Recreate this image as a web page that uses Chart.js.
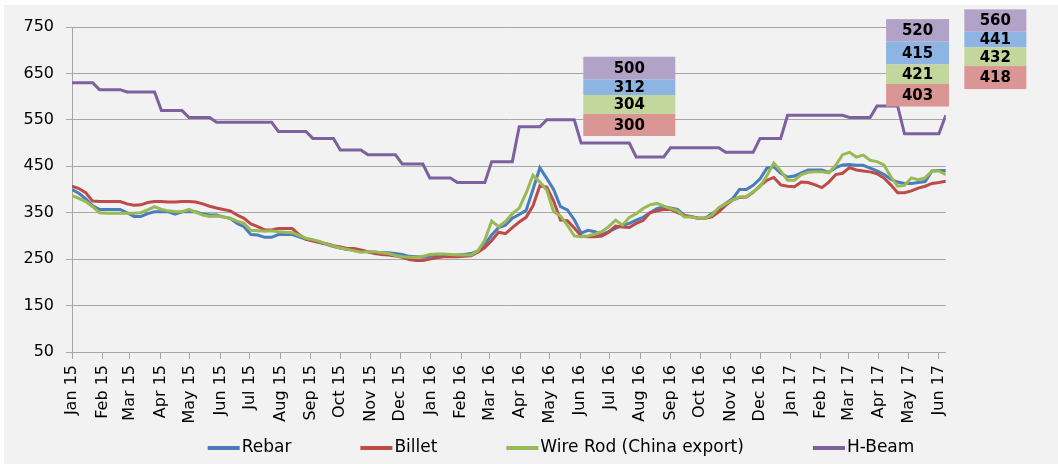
<!DOCTYPE html>
<html>
<head>
<meta charset="utf-8">
<script src="https://cdn.jsdelivr.net/npm/chart.js@4.4.1/dist/chart.umd.min.js"></script>
<style>
  html, body { margin: 0; padding: 0; background: #fff; }
  #priceChart { display: block; }
</style>
</head>
<body>
<canvas id="priceChart" width="1058" height="464"></canvas>
<script>
// Etiquetas del eje X (inicio de cada mes)
var monthLabels = ['Jan 15', 'Feb 15', 'Mar 15', 'Apr 15', 'May 15', 'Jun 15', 'Jul 15', 'Aug 15', 'Sep 15', 'Oct 15',
  'Nov 15', 'Dec 15', 'Jan 16', 'Feb 16', 'Mar 16', 'Apr 16', 'May 16', 'Jun 16', 'Jul 16', 'Aug 16',
  'Sep 16', 'Oct 16', 'Nov 16', 'Dec 16', 'Jan 17', 'Feb 17', 'Mar 17', 'Apr 17', 'May 17', 'Jun 17'];

// Precios semanales desde el 1 de enero de 2015
var rebar = [
  400, 392, 380, 365, 357, 357, 357, 357, 350, 342,
  342, 348, 352, 352, 352, 347, 352, 352, 352, 347,
  345, 345, 341, 338, 327, 320, 303, 302, 297, 297,
  303, 303, 303, 298, 293, 290, 286, 282, 277, 274,
  271, 270, 268, 266, 265, 264, 264, 262, 260, 256,
  255, 254, 256, 258, 259, 258, 259, 260, 262, 268,
  282, 302, 318, 323, 338, 346, 355, 400, 447, 424,
  400, 363, 356, 335, 306, 312, 309, 303, 309, 316,
  323, 327, 334, 340, 350, 359, 363, 360, 357, 344,
  341, 338, 338, 348, 358, 370, 380, 400, 400, 409,
  423, 446, 449, 435, 427, 429, 436, 442, 442, 442,
  437, 447, 453, 454, 452, 452, 446, 440, 433, 422,
  416, 413, 413, 415, 417, 440, 441, 441];

var billet = [
  407, 402, 393, 375, 374, 374, 374, 374, 369, 366,
  367, 372, 374, 374, 373, 373, 374, 374, 373, 369,
  364, 360, 357, 354, 345, 338, 326, 320, 313, 313,
  316, 316, 316, 303, 293, 289, 286, 283, 279, 276,
  273, 273, 270, 266, 262, 260, 259, 257, 254, 249,
  247, 247, 250, 253, 255, 255, 255, 256, 257, 265,
  275, 290, 308, 305, 318, 330, 340, 365, 408, 405,
  375, 334, 333, 317, 300, 298, 298, 300, 308, 321,
  319, 318, 327, 333, 350, 354, 357, 357, 350, 344,
  342, 338, 338, 341, 352, 366, 377, 383, 384, 394,
  408, 420, 426, 410, 407, 406, 416, 415, 410, 404,
  416, 432, 435, 447, 442, 440, 438, 434, 425, 410,
  393, 393, 397, 403, 407, 413, 415, 418];

var wireRod = [
  387, 381, 374, 363, 350, 349, 349, 349, 349, 349,
  350, 356, 363, 357, 354, 352, 352, 357, 351, 345,
  342, 343, 341, 338, 332, 327, 312, 311, 310, 311,
  309, 308, 307, 301, 295, 292, 288, 283, 278, 274,
  271, 268, 265, 266, 266, 264, 262, 258, 255, 254,
  254, 256, 260, 261, 261, 260, 259, 259, 259, 268,
  291, 332, 320, 331, 348, 360, 392, 431, 416, 399,
  352, 343, 323, 300, 298, 300, 304, 309, 320, 334,
  323, 340, 348, 359, 367, 370, 364, 359, 354, 341,
  341, 338, 338, 345, 361, 369, 377, 384, 385, 395,
  406, 430, 457, 440, 420, 420, 432, 437, 438, 438,
  436, 452, 475, 480, 470, 474, 463, 460, 453, 428,
  407, 409, 425, 421, 425, 440, 440, 432];

var hBeam = [
  630, 630, 630, 630, 615, 615, 615, 615, 610, 610,
  610, 610, 610, 570, 570, 570, 570, 555, 555, 555,
  555, 545, 545, 545, 545, 545, 545, 545, 545, 545,
  525, 525, 525, 525, 525, 510, 510, 510, 510, 485,
  485, 485, 485, 475, 475, 475, 475, 475, 455, 455,
  455, 455, 425, 425, 425, 425, 415, 415, 415, 415,
  415, 460, 460, 460, 460, 535, 535, 535, 535, 550,
  550, 550, 550, 550, 500, 500, 500, 500, 500, 500,
  500, 500, 470, 470, 470, 470, 470, 490, 490, 490,
  490, 490, 490, 490, 490, 480, 480, 480, 480, 480,
  510, 510, 510, 510, 560, 560, 560, 560, 560, 560,
  560, 560, 560, 555, 555, 555, 555, 580, 580, 580,
  580, 520, 520, 520, 520, 520, 520, 560];

// Valores de las etiquetas: H-Beam, Rebar, Wire Rod, Billet
var calloutValues = [
  [500, 312, 304, 300],
  [520, 415, 421, 403],
  [560, 441, 432, 418]];

// Posicion de cada inicio de mes, en semanas desde el 1 de enero de 2015
var monthTicks = monthLabels.map(function (label, k) {
  return (Date.UTC(2015, k, 1) - Date.UTC(2015, 0, 1)) / (7 * 864e5);
});

function toPoints(values) {
  return values.map(function (v, i) { return { x: i, y: v }; });
}

Chart.defaults.font.family = '"DejaVu Sans", Verdana, sans-serif';
Chart.defaults.color = '#000';

// Fondo gris con el borde blanco de arriba y de la izquierda
var backgroundPlugin = {
  id: 'background',
  beforeDraw: function (chart) {
    var ctx = chart.ctx;
    ctx.save();
    ctx.fillStyle = '#fff';
    ctx.fillRect(0, 0, chart.width, chart.height);
    ctx.fillStyle = '#f2f2f2';
    ctx.fillRect(4, 5, chart.width - 4, chart.height - 5);
    ctx.restore();
  }
};

// Cajas de valores encima de la grafica
var calloutPlugin = {
  id: 'callouts',
  afterDatasetsDraw: function (chart, args, opts) {
    var ctx = chart.ctx;
    var xs = chart.scales.x, ys = chart.scales.y;
    ctx.save();
    ctx.font = 'bold 15px "DejaVu Sans"';
    ctx.textAlign = 'center';
    ctx.textBaseline = 'middle';
    opts.boxes.forEach(function (box, b) {
      var cx = xs.getPixelForValue(box.week);
      var top = ys.getPixelForValue(box.top);
      calloutValues[b].forEach(function (val, r) {
        var h = box.rows[r];
        ctx.fillStyle = opts.colors[r];
        ctx.fillRect(cx - box.width / 2, top, box.width, h);
        ctx.fillStyle = '#000';
        ctx.fillText(String(val), cx, top + h / 2 + 1);
        top += h;
      });
    });
    ctx.restore();
  }
};

// Leyenda al pie con marcas de linea, como en Excel
var lineLegendPlugin = {
  id: 'lineLegend',
  afterDraw: function (chart, args, opts) {
    var ctx = chart.ctx;
    var sets = chart.data.datasets;
    ctx.save();
    ctx.font = opts.fontSize + 'px "DejaVu Sans"';
    ctx.textBaseline = 'middle';
    ctx.textAlign = 'left';
    var widths = sets.map(function (ds) { return ctx.measureText(ds.label).width; });
    var total = widths.reduce(function (a, w) { return a + w + opts.markerWidth + opts.markerGap; }, 0) +
      opts.spacing * (sets.length - 1);
    var x = opts.centerX - total / 2;
    sets.forEach(function (ds, i) {
      ctx.fillStyle = ds.borderColor;
      ctx.fillRect(x, opts.y - 2, opts.markerWidth, 4);
      x += opts.markerWidth + opts.markerGap;
      ctx.fillStyle = '#000';
      ctx.fillText(ds.label, x, opts.y);
      x += widths[i] + opts.spacing;
    });
    ctx.restore();
  }
};

var ctx = document.getElementById('priceChart').getContext('2d');
var myChart = new Chart(ctx, {
  type: 'line',
  data: {
    datasets: [
      { label: 'Rebar', data: toPoints(rebar), borderColor: '#4a7ebb', order: 4 },
      { label: 'Billet', data: toPoints(billet), borderColor: '#be4b48', order: 3 },
      { label: 'Wire Rod (China export)', data: toPoints(wireRod), borderColor: '#98b954', order: 2 },
      { label: 'H-Beam', data: toPoints(hBeam), borderColor: '#7d60a0', order: 1 }
    ]
  },
  options: {
    responsive: false,
    animation: false,
    layout: { padding: { left: 0, top: 27, right: 112.2, bottom: 37 } },
    elements: {
      line: { borderWidth: 3, tension: 0 },
      point: { radius: 0, hoverRadius: 0 }
    },
    scales: {
      x: {
        type: 'linear',
        min: 0,
        max: 127,
        afterBuildTicks: function (scale) {
          scale.ticks = monthTicks.map(function (v) { return { value: v }; });
        },
        afterFit: function (scale) { scale.height = 75; },
        ticks: {
          autoSkip: false,
          minRotation: 90,
          maxRotation: 90,
          padding: 6,
          font: { size: 16 },
          callback: function (value, index) { return monthLabels[index]; }
        },
        grid: { drawOnChartArea: false, tickLength: 7, color: '#a6a6a6' },
        border: { color: '#a6a6a6' }
      },
      y: {
        min: 50,
        max: 750,
        afterFit: function (scale) { scale.width = 72; },
        ticks: { stepSize: 100, padding: 12, font: { size: 16 } },
        grid: { color: '#a6a6a6', tickLength: 6 },
        border: { color: '#a6a6a6' }
      }
    },
    plugins: {
      legend: { display: false },
      tooltip: { enabled: false },
      lineLegend: { centerX: 561, y: 448, fontSize: 17, markerWidth: 32, markerGap: 2, spacing: 69 },
      callouts: {
        colors: ['#b3a2c7', '#8eb4e3', '#c3d69b', '#d99694'],
        boxes: [
          { week: 81.0, top: 686, width: 92, rows: [22.6, 15.7, 19, 22] },
          { week: 122.9, top: 767, width: 63, rows: [22.4, 23, 19.5, 22.5] },
          { week: 134.2, top: 788, width: 62, rows: [22.4, 15.6, 18.7, 23] }
        ]
      }
    }
  },
  plugins: [backgroundPlugin, calloutPlugin, lineLegendPlugin]
});
</script>
</body>
</html>
